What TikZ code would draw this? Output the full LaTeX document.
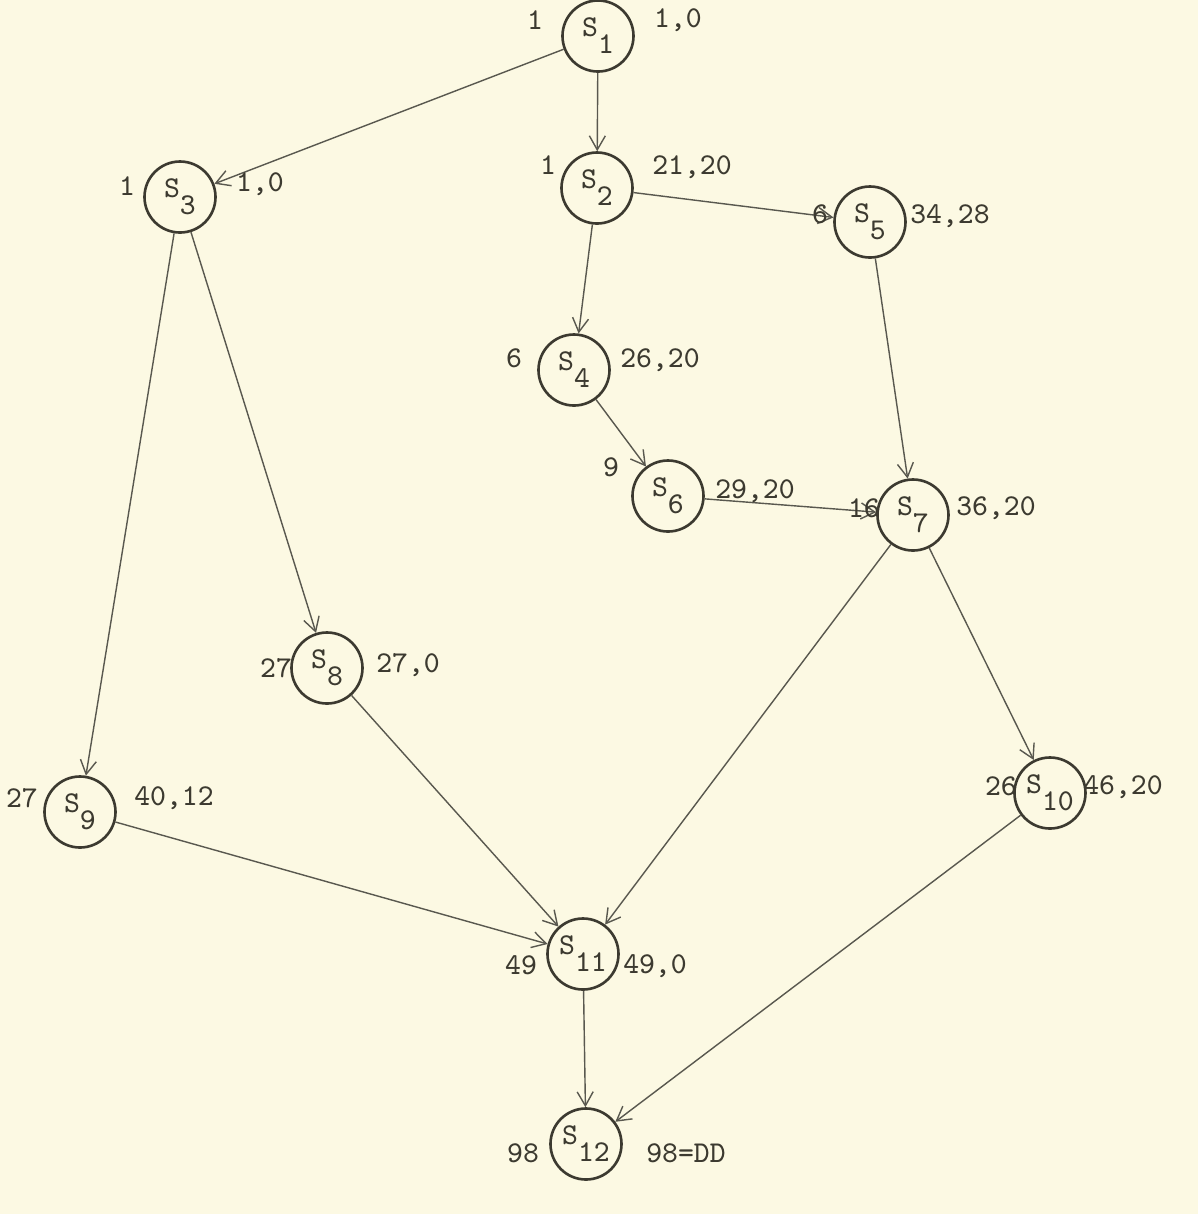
\documentclass[tikz,border=0pt]{standalone}
\usetikzlibrary{arrows.meta}
\definecolor{paper}{RGB}{252,249,227}
\definecolor{ink}{RGB}{60,58,48}
\tikzset{
  state/.style={circle, draw=ink, line width=0.75pt, minimum size=0.71cm, inner sep=0pt, font=\ttfamily\fontsize{8.6}{10}\selectfont, text=ink},
  lab/.style={font=\ttfamily\fontsize{8.6}{10}\selectfont, text=ink, inner sep=0pt},
  edge/.style={draw=ink!85, line width=0.4pt, -{Straight Barb[length=1.4mm,width=1.6mm]}}
}
\newcommand{\sname}[1]{\raisebox{0.5ex}{S}\raisebox{-0.8ex}{#1}}
\begin{document}
\begin{tikzpicture}
	\fill [paper] (0,0) rectangle (11.98,-12.14);
	\useasboundingbox (0,0) rectangle (11.98,-12.14);
	% states
	\node [state] (s1) at (5.98,-0.36) {\sname{1}};
	\node [state] (s2) at (5.97,-1.88) {\sname{2}};
	\node [state] (s3) at (1.80,-1.97) {\sname{3}};
	\node [state] (s4) at (5.74,-3.70) {\sname{4}};
	\node [state] (s5) at (8.70,-2.22) {\sname{5}};
	\node [state] (s6) at (6.68,-4.96) {\sname{6}};
	\node [state] (s7) at (9.13,-5.15) {\sname{7}};
	\node [state] (s8) at (3.27,-6.68) {\sname{8}};
	\node [state] (s9) at (0.80,-8.12) {\sname{9}};
	\node [state] (s10) at (10.50,-7.93) {\sname{10}};
	\node [state] (s11) at (5.83,-9.54) {\sname{11}};
	\node [state] (s12) at (5.86,-11.44) {\sname{12}};
	% edges
	\draw [edge] (s1) -- (s3);
	\draw [edge] (s1) -- (s2);
	\draw [edge] (s2) -- (s5);
	\draw [edge] (s2) -- (s4);
	\draw [edge] (s4) -- (s6);
	\draw [edge] (s6) -- (s7);
	\draw [edge] (s5) -- (s7);
	\draw [edge] (s3) -- (s9);
	\draw [edge] (s3) -- (s8);
	\draw [edge] (s7) -- (s11);
	\draw [edge] (s7) -- (s10);
	\draw [edge] (s8) -- (s11);
	\draw [edge] (s9) -- (s11);
	\draw [edge] (s10) -- (s12);
	\draw [edge] (s11) -- (s12);
	% early / late times
	\node [lab] (e1) at (5.35,-0.20) {1};
	\node [lab] (t1) at (6.78,-0.20) {1,0};
	\node [lab] (e2) at (5.48,-1.65) {1};
	\node [lab] (t2) at (6.92,-1.67) {21,20};
	\node [lab] (e3) at (1.27,-1.86) {1};
	\node [lab] (t3) at (2.60,-1.84) {1,0};
	\node [lab] (e4) at (5.14,-3.58) {6};
	\node [lab] (t4) at (6.60,-3.60) {26,20};
	\node [lab] (e5) at (8.20,-2.14) {6};
	\node [lab] (t5) at (9.50,-2.16) {34,28};
	\node [lab] (e6) at (6.11,-4.67) {9};
	\node [lab] (t6) at (7.55,-4.91) {29,20};
	\node [lab] (e7) at (8.64,-5.08) {16};
	\node [lab] (t7) at (9.96,-5.08) {36,20};
	\node [lab] (e8) at (2.76,-6.68) {27};
	\node [lab] (t8) at (4.08,-6.65) {27,0};
	\node [lab] (e9) at (0.22,-7.98) {27};
	\node [lab] (t9) at (1.74,-7.98) {40,12};
	\node [lab] (e10) at (10.01,-7.86) {26};
	\node [lab] (t10) at (11.23,-7.87) {46,20};
	\node [lab] (e11) at (5.21,-9.65) {49};
	\node [lab] (t11) at (6.55,-9.66) {49,0};
	\node [lab] (e12) at (5.23,-11.53) {98};
	\node [lab] (t12) at (6.86,-11.53) {98=DD};
\end{tikzpicture}
\end{document}
